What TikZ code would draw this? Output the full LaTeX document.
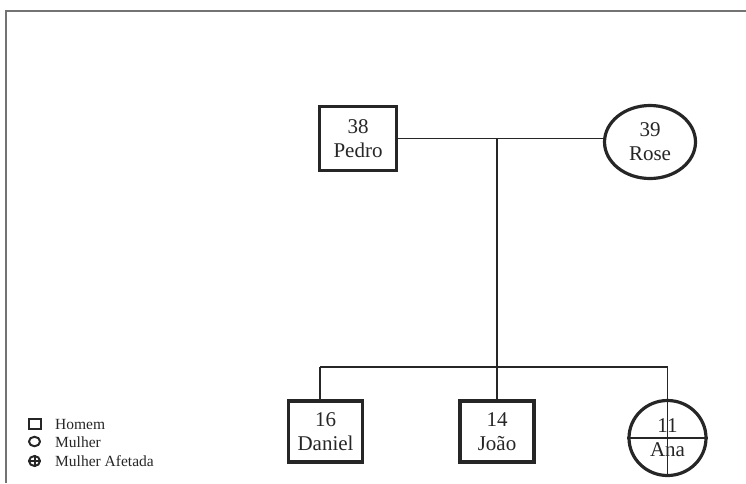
\documentclass[tikz,border=0pt]{standalone}
\usepackage{fontspec}
\setmainfont{Liberation Serif}
\usetikzlibrary{shapes.geometric}

\begin{document}
\begin{tikzpicture}[x=1pt,y=-1pt,
  member/.style={draw=black!85, line width=3.2pt, inner sep=0pt, align=center,
                 font=\fontsize{21}{24}\selectfont, text=black!85},
  male/.style={member, rectangle, minimum width=74pt, minimum height=61pt},
  female/.style={member, ellipse},
  link/.style={draw=black!85, line width=1.6pt},
  frameline/.style={draw=black!55, line width=1.5pt},
  legendtext/.style={anchor=base west, inner sep=0pt, font=\fontsize{15.5}{18}\selectfont, text=black!85},
  legendsym/.style={draw=black!85, line width=2pt}]
\useasboundingbox (0,0) rectangle (746,483);

% outer frame (top and left edges)
\draw[frameline] (746,11) -- (6,11) -- (6,483);

% parents
\node[male, minimum width=77pt, minimum height=64pt] (pedro) at (358,138.5) {38\\Pedro};
\node[female, minimum width=91pt, minimum height=73pt] (rose) at (650,142) {39\\Rose};

% children
\node[male] (daniel) at (325.5,431.5) {16\\Daniel};
\node[male] (joao) at (497,431.5) {14\\João};
\node[female, minimum width=77pt, minimum height=75pt] (ana) at (667.5,438) {11\\Ana};

% marriage line and descent
\coordinate (mid) at (497,138.5);
\coordinate (sib) at (497,367);
\coordinate (sibL) at (320,367);
\coordinate (sibR) at (667.5,367);
\draw[link] (pedro.east) -- (pedro.east -| rose.west);
\draw[link] (mid) -- (sib);
\draw[link] (sibL) -- (sibR);
\draw[link] (sibL) -- (sibL |- daniel.north);
\draw[link] (sib) -- (joao.north);
\draw[link] (sibR) -- (ana.south);
\draw[link] (ana.west) -- (ana.east);

% legend
\node[legendsym, rectangle, minimum width=12pt, minimum height=10pt, inner sep=0pt] (lgm) at (35,424) {};
\node[legendsym, ellipse, minimum width=11pt, minimum height=9.5pt, inner sep=0pt] (lgf) at (34.5,441.5) {};
\node[legendsym, ellipse, minimum width=11pt, minimum height=10pt, inner sep=0pt] (lga) at (34.5,461) {};
\draw[legendsym] (lga.west) -- (lga.east) (lga.north) -- (lga.south);
\node[legendtext] (tm) at (55,429) {Homem};
\node[legendtext] (tf) at (55,447.5) {Mulher};
\node[legendtext] (ta) at (55,466.5) {Mulher Afetada};
\end{tikzpicture}
\end{document}
